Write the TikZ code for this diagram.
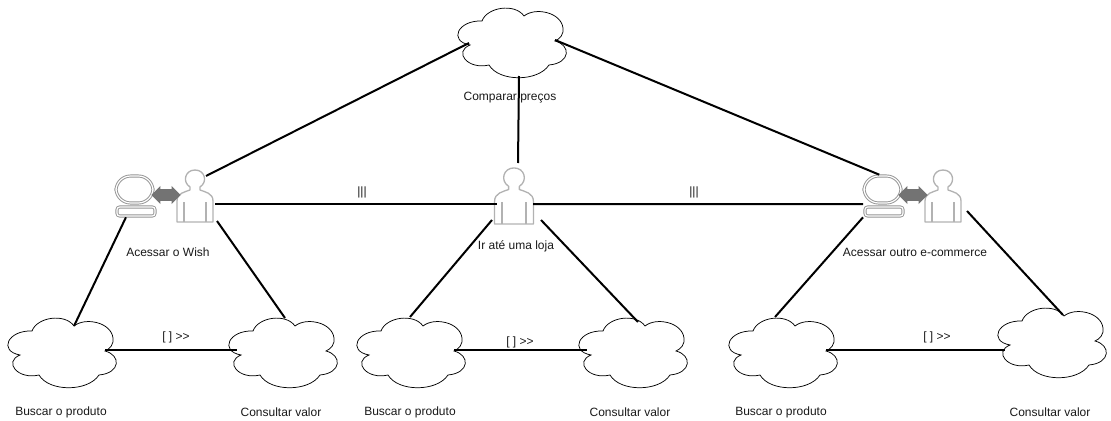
\documentclass[tikz,border=0pt]{standalone}
\usepackage{fontspec}
\setmainfont{Liberation Sans}
\usetikzlibrary{shapes.arrows}
\tikzset{
	caixa/.style={inner sep=0pt, outer sep=0pt},
	linha/.style={line width=1.5pt, black},
	nuvemlinha/.style={line width=0.55pt, black},
	cinza/.style={line width=1pt, black!30, line join=round},
	duplo/.style={draw=black!42, line width=0.7pt, double=white, double distance=0.9pt},
	seta/.style={double arrow, fill=black!55, inner xsep=0pt, inner ysep=4.2pt, minimum height=22pt, double arrow head extend=2.4pt, double arrow head indent=0pt},
	rotulo/.style={font=\fontsize{9}{11}\selectfont, black!90}
}
\newcommand{\nuvem}[2]{
	\node[caixa, minimum width=82pt, minimum height=52pt] (#1) at (#2) {};
	\begin{scope}[shift={(#2)}]
		\draw[nuvemlinha] (-31,-21) .. controls (-26,-35) and (2,-39) .. (11,-26)
			.. controls (22,-35) and (48,-30) .. (50,-14) .. controls (51,-8) and (47,-3) .. (42,-1)
			.. controls (58,3) and (58,21) .. (36,23) .. controls (25,40) and (-14,40) .. (-24,23)
			.. controls (-45,28) and (-60,10) .. (-43,3) .. controls (-65,-1) and (-55,-22) .. (-31,-21) -- cycle;
		\coordinate (#1-d) at (42,-2);
		\coordinate (#1-e) at (-47,-2);
		\coordinate (#1-o) at (-44,1);
		\coordinate (#1-n) at (11,-26);
		\coordinate (#1-s) at (6,34);
	\end{scope}
}
\newcommand{\pessoa}[3]{
	\node[caixa, minimum width=#3*29pt, minimum height=#3*40pt] (#1) at (#2) {};
	\begin{scope}[shift={(#2)}, scale=#3]
		\draw[cinza] (-5,-9) .. controls (-13,-14) and (-10,-26) .. (0,-26) .. controls (10,-26) and (13,-14) .. (5,-9)
			-- (5,-6) .. controls (10,-4) and (18,-3) .. (18,5) -- (18,26) -- (-18,26) -- (-18,5)
			.. controls (-18,-3) and (-10,-4) .. (-5,-6) -- cycle;
		\draw[cinza] (-11,6) -- (-11,26) (11,6) -- (11,26);
	\end{scope}
}
\newcommand{\computador}[2]{
	\node[caixa, minimum width=30pt, minimum height=32pt] (#1) at (#2) {};
	\begin{scope}[shift={(#2)}]
		\draw[duplo, rounded corners=11pt] (-19,-20) rectangle (18,7);
		\draw[duplo, rounded corners=2pt] (-18,11) rectangle (20,20);
	\end{scope}
}
\begin{document}
\begin{tikzpicture}[x=0.75pt, y=-0.75pt]
	\useasboundingbox (0,0) rectangle (1111,421);
	% nuvens
	\nuvem{comparar}{513,42}
	\nuvem{buscarA}{63,352}
	\nuvem{consultarA}{284,352}
	\nuvem{buscarB}{412,352}
	\nuvem{consultarB}{634,352}
	\nuvem{buscarC}{784,352}
	\nuvem{consultarC}{1053,342}
	% atores
	\computador{compA}{135,196}
	\pessoa{pessoaA}{195,196}{1}
	\node[seta] (setaA) at (166,195) {};
	\pessoa{pessoaB}{514,196}{1.08}
	\computador{compC}{883,196}
	\pessoa{pessoaC}{943,196}{1}
	\node[seta] (setaC) at (913,195) {};
	% pontas livres
	\coordinate (pAne) at (206,176);
	\coordinate (pAe) at (215,204);
	\coordinate (pAse) at (217,221);
	\coordinate (pBw) at (497,204);
	\coordinate (pBe) at (533,204);
	\coordinate (pBn) at (518,163);
	\coordinate (pBsw) at (492,220);
	\coordinate (pBse) at (541,220);
	\coordinate (pCse) at (967,211);
	\coordinate (cAn) at (285,318);
	\coordinate (bBn) at (410,317);
	\coordinate (cBn) at (638,322);
	\coordinate (bCn) at (775,317);
	\coordinate (cCn) at (1063,315);
	\coordinate (cCw) at (1005,350);
	% textos
	\node[rotulo] (txtComparar) at (510,98) {Comparar preços};
	\node[rotulo] (txtWish) at (168,252) {Acessar o Wish};
	\node[rotulo] (txtLoja) at (516,246) {Ir até uma loja};
	\node[rotulo] (txtOutro) at (915,252) {Acessar outro e-commerce};
	\node[rotulo] (txtBuscarA) at (61,412) {Buscar o produto};
	\node[rotulo] (txtConsultarA) at (281,412) {Consultar valor};
	\node[rotulo] (txtBuscarB) at (410,412) {Buscar o produto};
	\node[rotulo] (txtConsultarB) at (630,412) {Consultar valor};
	\node[rotulo] (txtBuscarC) at (781,412) {Buscar o produto};
	\node[rotulo] (txtConsultarC) at (1050,412) {Consultar valor};
	\node[rotulo] (escolhaA) at (176,337) {[ ] >{}>};
	\node[rotulo] (escolhaB) at (520,342) {[ ] >{}>};
	\node[rotulo] (escolhaC) at (937,337) {[ ] >{}>};
	\node[rotulo] (paraleloA) at (362,192) {|||};
	\node[rotulo] (paraleloB) at (694,192) {|||};
	% ligacoes
	\draw[linha] (comparar-o) -- (pAne);
	\draw[linha] (comparar-d) -- (compC.100);
	\draw[linha] (comparar-s) -- (pBn);
	\draw[linha] (pAe) -- (pBw);
	\draw[linha] (pBe) -- (compC.-158);
	\draw[linha] (compA.-113) -- (buscarA-n);
	\draw[linha] (pAse) -- (cAn);
	\draw[linha] (pBsw) -- (bBn);
	\draw[linha] (pBse) -- (cBn);
	\draw[linha] (compC.south west) -- (bCn);
	\draw[linha] (pCse) -- (cCn);
	\draw[linha] (buscarA-d) -- (consultarA-e);
	\draw[linha] (buscarB-d) -- (consultarB-e);
	\draw[linha] (buscarC-d) -- (cCw);
\end{tikzpicture}
\end{document}
